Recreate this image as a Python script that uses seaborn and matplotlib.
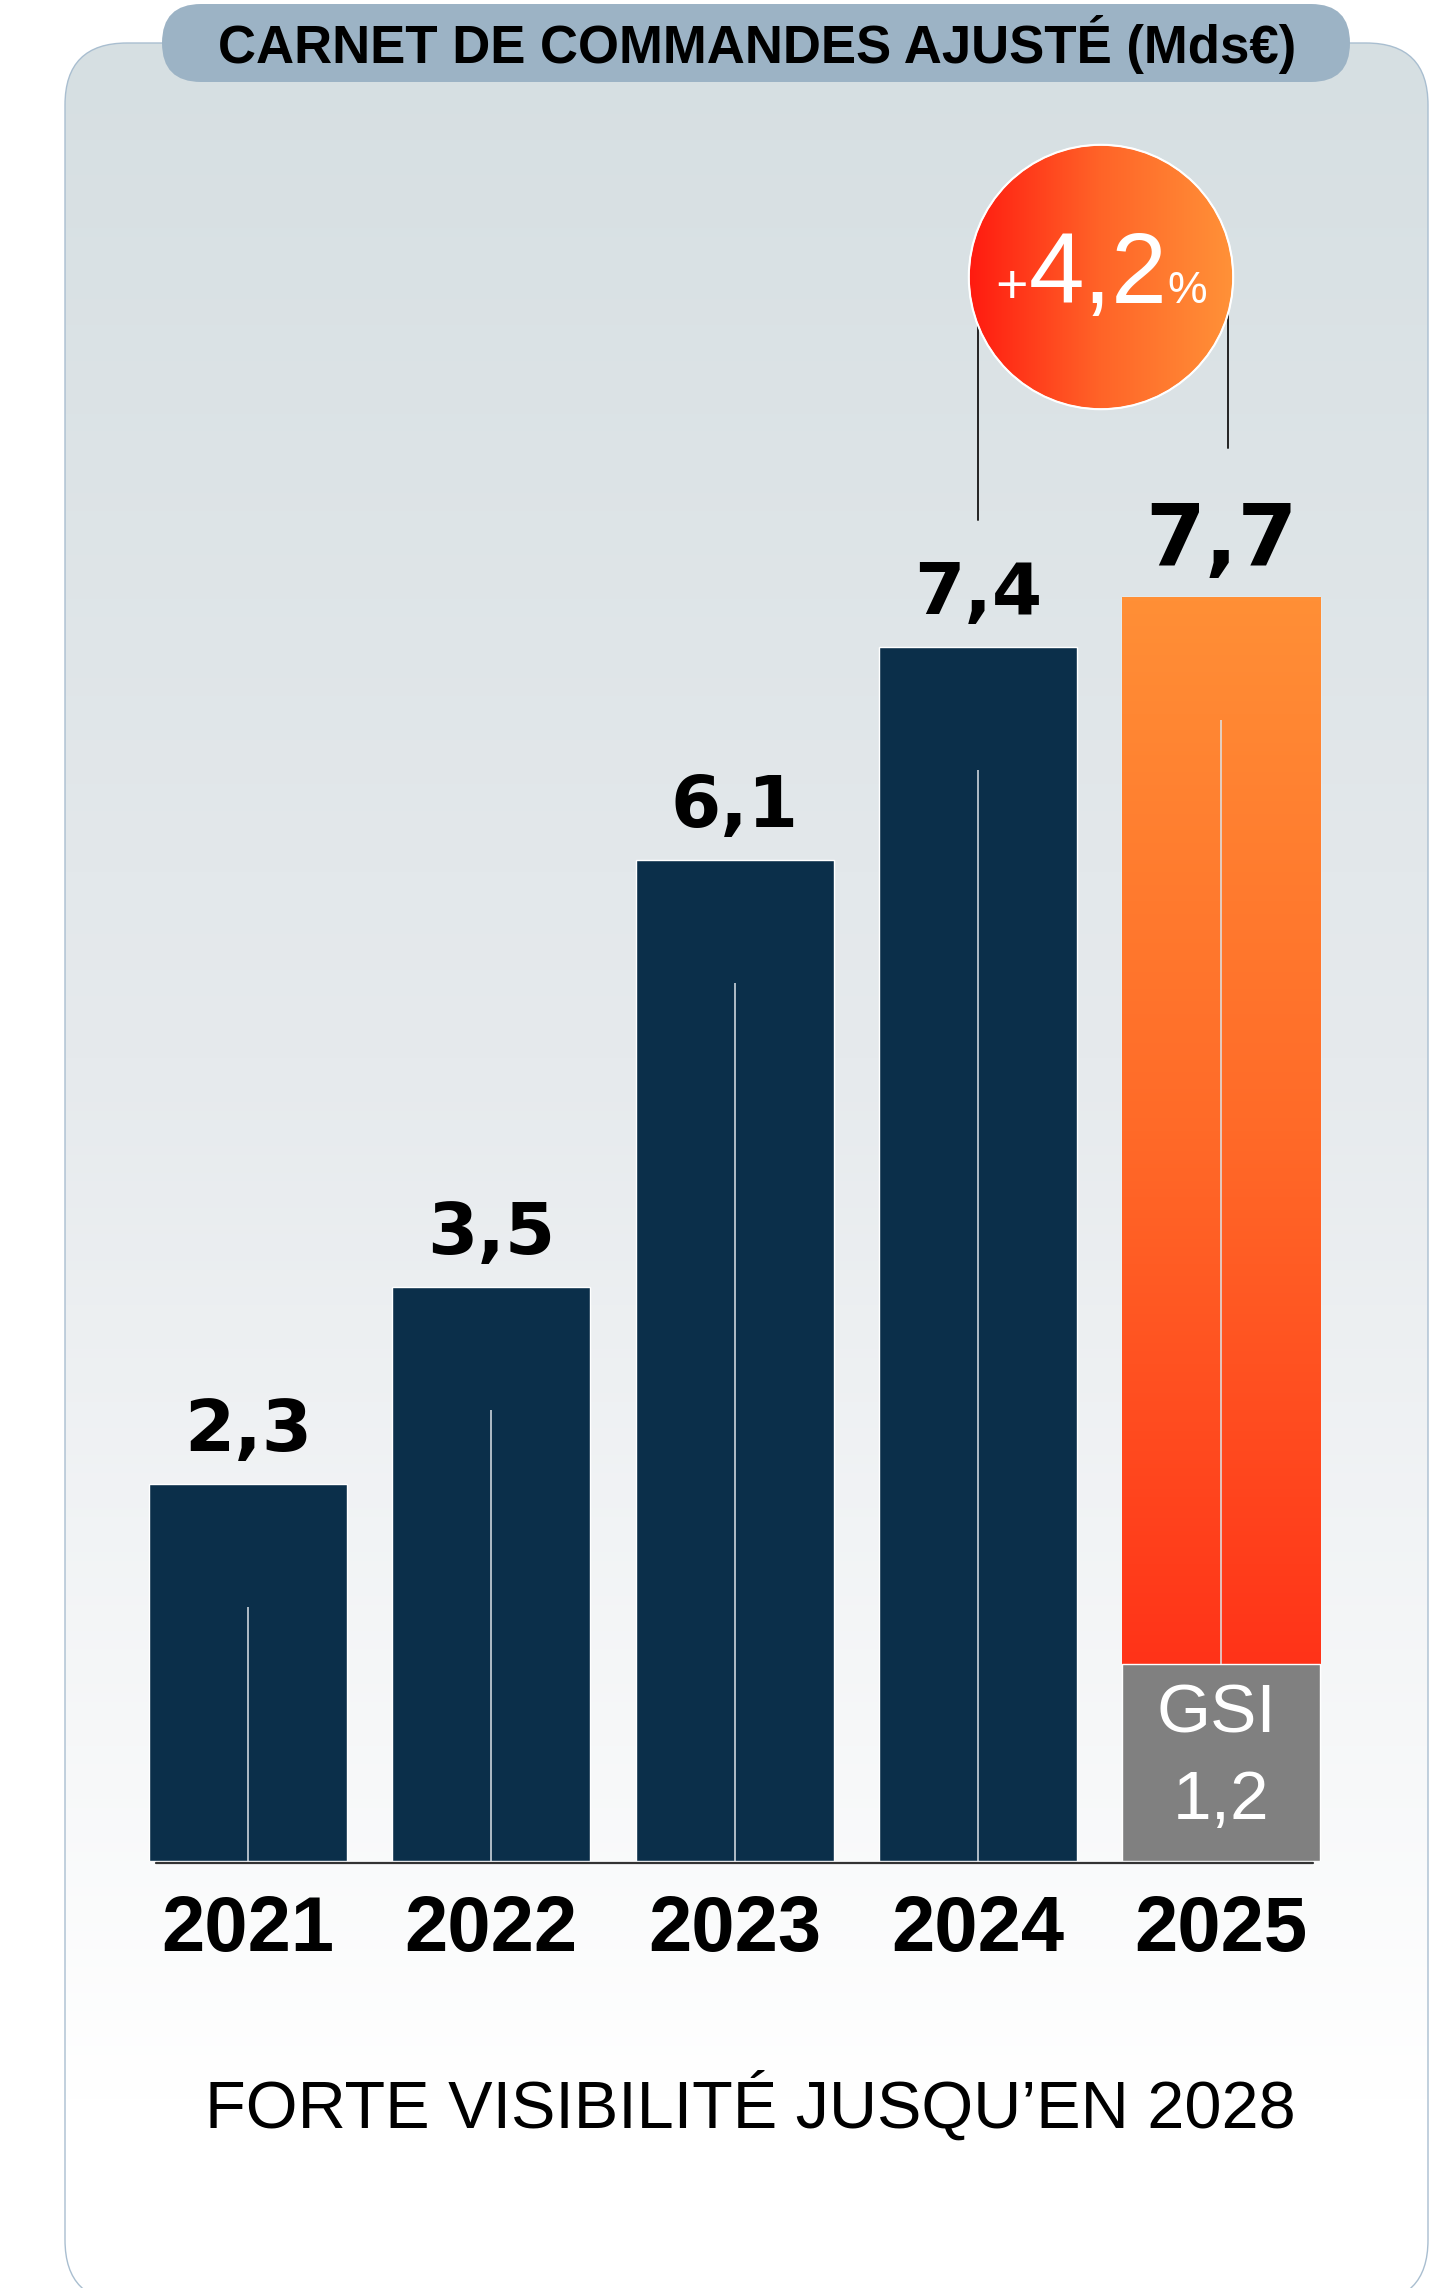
import numpy as np
import pandas as pd
import seaborn as sns
import matplotlib.pyplot as plt
from matplotlib.patches import FancyBboxPatch, Circle
from matplotlib.colors import LinearSegmentedColormap

# data
years = ["2021", "2022", "2023", "2024", "2025"]
values = [2.3, 3.5, 6.1, 7.4, 7.7]
value_labels = ["2,3", "3,5", "6,1", "7,4", "7,7"]
gsi = 1.2
growth_label = "4,2"
title = "CARNET DE COMMANDES AJUSTÉ (Mds€)"
footer = "FORTE VISIBILITÉ JUSQU\u2019EN 2028"

navy = "#0B2F4A"
W, H = 1448, 2288

sns.set_theme(style="white")
plt.rcParams["font.family"] = ["Liberation Sans", "DejaVu Sans"]

fig = plt.figure(figsize=(W / 100, H / 100), dpi=100)
fig.patch.set_facecolor("white")

# background panel, pixel coords with y measured from the bottom
bg = fig.add_axes([0, 0, 1, 1], zorder=-5)
bg.set_xlim(0, W)
bg.set_ylim(0, H)
bg.axis("off")
py0, py1 = H - 2302, H - 43
panel = FancyBboxPatch((65, py0), 1428 - 65, py1 - py0,
                       boxstyle="round,pad=0,rounding_size=62",
                       facecolor="none", edgecolor="none")
bg.add_patch(panel)
grad_cmap = LinearSegmentedColormap.from_list(
    "bg", [(0, "#FFFFFF"), (0.09, "#FFFFFF"), (0.55, "#E6EAED"), (1, "#D6DFE2")])
im = bg.imshow(np.linspace(0, 1, 256).reshape(-1, 1), cmap=grad_cmap, origin="lower",
               extent=[65, 1428, py0, py1], aspect="auto")
im.set_clip_path(panel)
bg.add_patch(FancyBboxPatch((65, py0), 1428 - 65, py1 - py0,
                            boxstyle="round,pad=0,rounding_size=62",
                            facecolor="none", edgecolor="#A9BED0", lw=1.0, zorder=2))

# title pill
bg.add_patch(FancyBboxPatch((162, H - 82), 1350 - 162, 78,
                            boxstyle="round,pad=0,rounding_size=39",
                            facecolor="#9CB3C5", edgecolor="none", zorder=3))
bg.text(757, H - 45, title, ha="center", va="center", fontsize=38,
        fontweight="bold", color="black", zorder=4)
bg.text(750, H - 2128, footer, ha="center", va="baseline", fontsize=48,
        color="black", zorder=4)

# main bar axes
ax = fig.add_axes([0.08729, 0.18663, 0.83995, 0.71722])
ax.set_facecolor("none")
df = pd.DataFrame({"year": years, "value": values})
palette = {y: navy for y in years}
palette["2025"] = "#FF8F36"
sns.barplot(data=df, x="year", y="value", hue="year", palette=palette,
            legend=False, width=0.814, saturation=1, ax=ax, zorder=2)
ax.set_xlim(-0.5, 4.5)
ax.set_ylim(0, 10)

# gradient on the 2025 bar
bar25 = ax.patches[4]
x0 = bar25.get_x()
x1 = x0 + bar25.get_width()
org_cmap = LinearSegmentedColormap.from_list("org", ["#FF3318", "#FF6A28", "#FF8F36"])
gim = ax.imshow(np.linspace(0, 1, 256).reshape(-1, 1), cmap=org_cmap, origin="lower",
                extent=[x0, x1, gsi, values[4]], aspect="auto", zorder=3)
gim.set_clip_path(bar25)
ax.bar(4, gsi, width=0.814, color="#808080", zorder=4)

# thin white centre lines
base = [0, 0, 0, 0, gsi]
ax.vlines(range(len(years)), base, [v - 0.75 for v in values],
          color="#DCE3E8", lw=1.1, zorder=5)

# baseline
ax.axhline(-0.01, xmin=0.0243, xmax=0.9756, color="#333333", lw=1.6, zorder=6,
           clip_on=False)

# value labels
for i, (v, lab) in enumerate(zip(values, value_labels)):
    big = i == len(values) - 1
    ax.text(i, v + (0.19 if big else 0.2), lab, ha="center", va="baseline",
            fontsize=62 if big else 52, fontweight="bold",
            family="DejaVu Sans", color="black", zorder=7)

# GSI segment text
gsi_txt = f"{gsi:.1f}".replace(".", ",")
ax.text(3.98, gsi * 0.655, "GSI", ha="center", va="baseline", fontsize=50,
        color="white", zorder=7)
ax.text(4.0, gsi * 0.213, gsi_txt, ha="center", va="baseline", fontsize=50,
        color="white", zorder=7)

# connector lines
ax.plot([3, 3], [values[3] + 0.77, 9.5], color="#222222", lw=1.4, zorder=1)
ax.plot([4.03, 4.03], [values[4] + 0.91, 9.5], color="#222222", lw=1.4, zorder=1)

ax.set_xlabel("")
ax.set_ylabel("")
ax.set_yticks([])
for s in ax.spines.values():
    s.set_visible(False)
ax.tick_params(axis="x", length=0, pad=24, labelsize=56, colors="black")
plt.setp(ax.get_xticklabels(), fontweight="bold")

# growth bubble
bx = fig.add_axes([968 / W, (H - 410) / H, 266 / W, 266 / H])
bx.set_xlim(0, 1)
bx.set_ylim(0, 1)
bx.axis("off")
bub_cmap = LinearSegmentedColormap.from_list("bub", ["#FF1A10", "#FF6428", "#FF9238"])
circ = Circle((0.5, 0.5), 0.497, transform=bx.transAxes, facecolor="none")
bx.add_patch(circ)
bim = bx.imshow(np.linspace(0, 1, 256).reshape(1, -1), cmap=bub_cmap,
                extent=[0, 1, 0, 1], aspect="auto")
bim.set_clip_path(circ)
bx.add_patch(Circle((0.5, 0.5), 0.497, facecolor="none", edgecolor="white",
                    lw=1.5, clip_on=False))
bx.text(0.49, 0.402, growth_label, ha="center", va="baseline", fontsize=72, color="white")
bx.text(0.225, 0.402, "+", ha="right", va="baseline", fontsize=40, color="white")
bx.text(0.75, 0.402, "%", ha="left", va="baseline", fontsize=32, color="white")

fig.savefig("out.png", dpi=100)
